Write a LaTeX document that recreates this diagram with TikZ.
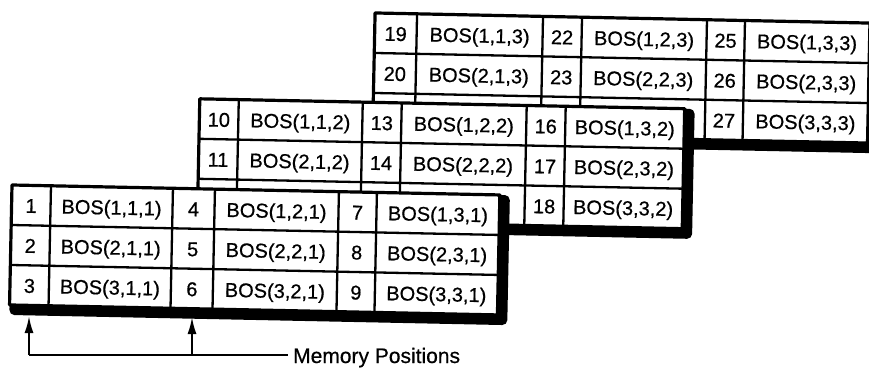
\documentclass[tikz,border=0pt]{standalone}
\usepackage{fontspec}
\setmainfont{Liberation Sans}
\newfontfamily\diagfont{Liberation Sans}[FakeBold=0.6]
\usetikzlibrary{arrows.meta}
\tikzset{
  celltext/.style={font=\diagfont\fontsize{20}{24}\selectfont, inner sep=0pt, anchor=base},
  gridline/.style={line width=2.3pt},
  frameline/.style={line width=3.2pt, line join=round},
  slab/.style={fill=black, rounded corners=5pt},
  pointer/.style={line width=2pt, -{Latex[length=17pt,width=9pt]}},
  leader/.style={line width=2pt},
  caption/.style={font=\diagfont\fontsize{21}{25}\selectfont, inner xsep=5pt, inner ysep=0pt, anchor=base west},
}
\newcommand\bosplane[9]{%
  \fill[slab] (#1,#2) rectangle ++(#9+10,130);
  \fill[white] (#1,#2) rectangle ++(#9,120);
  \draw[gridline] (#1,#2+40) -- ++(#9,0) (#1,#2+80) -- ++(#9,0);
  \foreach \c in {#4,#5,#6,#7,#8}{\draw[gridline] (#1+\c,#2) -- ++(0,120);}
  \draw[frameline] (#1,#2) rectangle ++(#9,120);
  \foreach \j/\a/\b/\e in {1/0/#4/#5,2/#5/#6/#7,3/#7/#8/#9}{
    \foreach \i in {1,2,3}{
      \pgfmathtruncatemacro\num{(#3-1)*9+(\j-1)*3+\i}
      \pgfmathtruncatemacro\hidden{(#3>1)&&(\i==3)&&(\j<3)}
      \ifnum\hidden=0
        \node[celltext] (n\num) at ({#1+(\a+\b)/2},{#2+40*\i-12.5}) {\num};
        \node[celltext] (b\i\j#3) at ({#1+(\b+\e)/2},{#2+40*\i-12.5}) {BOS(\i,\j,#3)};
      \fi
    }
  }
}
\begin{document}
\begin{tikzpicture}[x=1pt,y=-1pt]
\useasboundingbox (0,0) rectangle (869,371);
\clip (0,0) rectangle (869,371);
\begin{scope}[rotate around={-1.17:(12,185)}, transform shape]
\bosplane{371.5}{5.6}{3}{42}{168}{207}{332}{370}{495}
\bosplane{198}{95}{2}{39}{163}{202}{327}{366}{485}
\bosplane{12}{185}{1}{39}{161}{203}{327}{365}{488}
\end{scope}
\coordinate (t1) at (29,316);
\coordinate (t2) at (192,317);
\coordinate (m1) at (29,355);
\coordinate (m2) at (192,355);
\node[caption] (mp) at (288,363) {Memory Positions};
\draw[pointer] (m1) -- (t1);
\draw[pointer] (m2) -- (t2);
\draw[leader] (m1) -- (mp.west |- m1);
\end{tikzpicture}
\end{document}
